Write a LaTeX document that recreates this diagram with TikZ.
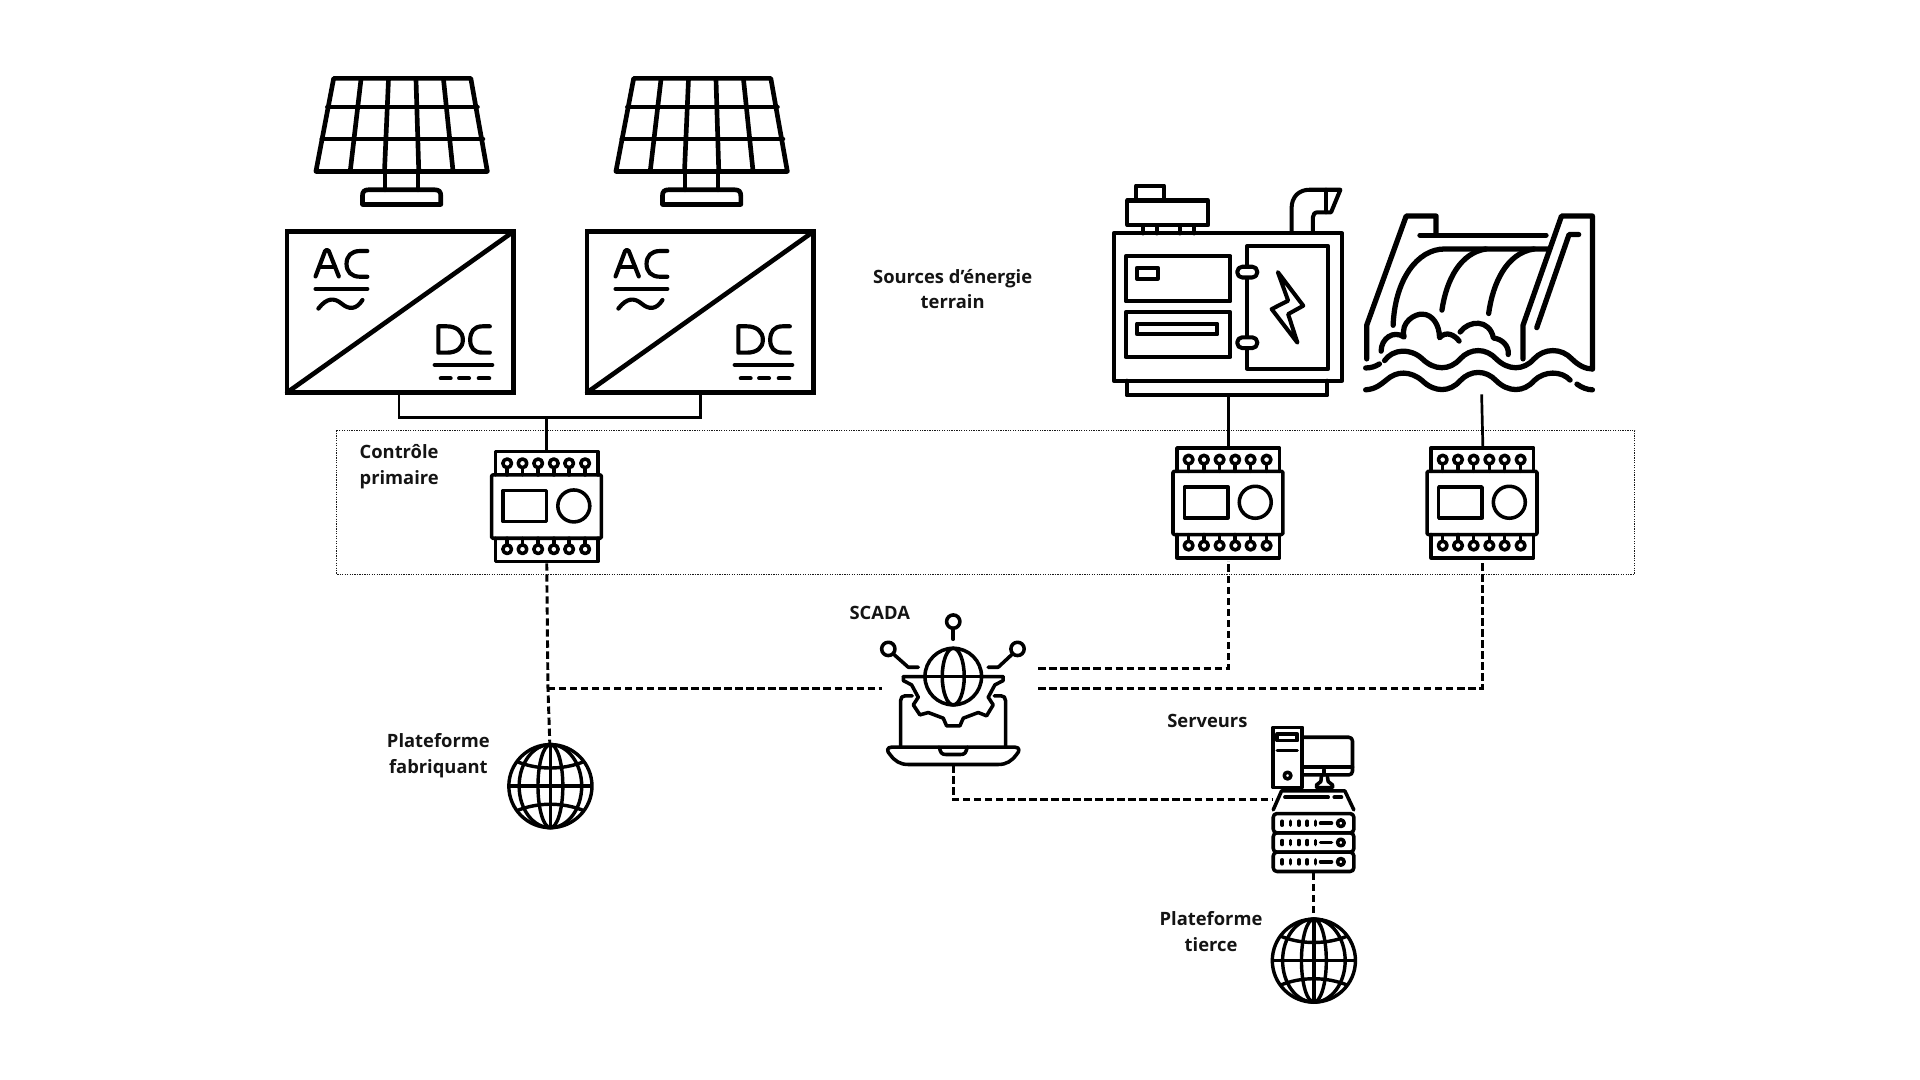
\documentclass[tikz,border=0pt]{standalone}
\usepackage{fontspec}
\setmainfont{Open Sans}
\tikzset{
  thicksun/.style={line width=3.8pt,line join=round,line cap=round},
  icon/.style={line width=2.9pt,line join=round,line cap=round},
  geniconline/.style={line width=3.3pt,line join=round,line cap=round},
  hydroline/.style={line width=4.3pt,line join=round,line cap=round},
  letter/.style={line width=3.4pt,line join=round,line cap=round},
  solidlink/.style={line width=2.2pt},
  thinlink/.style={line width=2pt},
  dashlink/.style={line width=2.4pt,dash pattern=on 6pt off 3pt},
  lab/.style={font=\bfseries\fontsize{15}{21}\selectfont,align=center,inner sep=0pt,text=black!92}
}
\newcommand{\solarunit}[1]{%
\begin{scope}[shift={(#1,0)},thicksun]
 \draw (272.5,64)--(384.5,64)--(398,140)--(258,140)--cycle;
 \draw (267.4,87.3)--(389.9,87.3) (262.8,113.5)--(394.4,113.5);
 \foreach \f in {0.2,0.4,0.6,0.8}{\draw ({272.5+112*\f},64)--({258+140*\f},140);}
 \draw (314.5,140)--(314.5,155) (341.5,140)--(341.5,155);
 \draw (296,167)--(296,160) .. controls (296,156.5) and (297.5,155) .. (301,155)--(355,155) .. controls (358.5,155) and (360,156.5) .. (360,160)--(360,167)--cycle;
\end{scope}}
\newcommand{\inverterunit}[1]{%
\begin{scope}[shift={(#1,0)}]
 \draw[thicksun,line join=miter] (234.5,189) rectangle (419.5,320.5);
 \draw[thicksun] (234.5,320.5)--(419.5,189);
 \draw[letter] (257.7,225.7)--(265.5,205) to[out=60,in=120,looseness=1.2] (268.5,205)--(276.7,225.7);
 \draw[letter] (261,218)--(273.5,218);
 \draw[letter] (300,205)--(294,205) .. controls (287,205) and (283,209) .. (283,215.5) .. controls (283,222) and (287,226) .. (294,226)--(300,226);
 \draw[letter] (257.7,236)--(300,236);
 \draw[letter] (260,252) .. controls (267,243) and (273,243) .. (279,248) .. controls (285,253) and (291,253) .. (296,245);
 \draw[letter] (358,266.5)--(365,266.5) .. controls (373,266.5) and (378,271) .. (378,277.5) .. controls (378,284) and (373,288) .. (365,288)--(358,288)--cycle;
 \draw[letter] (400,266.5)--(394,266.5) .. controls (387,266.5) and (384,271) .. (384,277.5) .. controls (384,284) and (387,288) .. (394,288)--(400,288);
 \draw[letter] (355,298)--(402,298);
 \draw[letter] (360,309)--(368,309) (375,309)--(383,309) (391,309)--(399.5,309);
\end{scope}}
\newcommand{\moduleunit}[2]{%
\begin{scope}[shift={(#1,#2)},x=.272pt,y=-.272pt,icon]
 \draw (497,165)--(497,95)--(805,95)--(805,165);
 \draw (497,355)--(497,425)--(805,425)--(805,355);
 \draw[rounded corners=1pt] (485,165) rectangle (815,355);
 \draw (520,212) rectangle (650,305);
 \draw (732,258) circle (48);
 \foreach \u in {532,578,625,672,718,766}{
   \draw (\u,130) circle (13);
   \draw (\u,145)--(\u,165);
   \draw (\u,388) circle (13);
   \draw (\u,373)--(\u,355);
 }
\end{scope}}
\newcommand{\globeunit}[2]{%
\begin{scope}[shift={(#1,#2)},x=35pt,y=35pt,line width=2.8pt]
 \draw (0,0) circle (.97);
 \draw (-1,0)--(1,0) (0,-1)--(0,1);
 \draw (0,0) circle[x radius=.73,y radius=.97];
 \draw (0,0) circle[x radius=.29,y radius=.97];
 \draw (-.8,.58) .. controls (-.3,.37) and (.3,.37) .. (.8,.58);
 \draw (-.8,-.58) .. controls (-.3,-.37) and (.3,-.37) .. (.8,-.58);
\end{scope}}
\begin{document}
\begin{tikzpicture}[x=1pt,y=-1pt]
\useasboundingbox[fill=white] (0,0) rectangle (1568,882);
% dotted frame
\draw[line width=1pt,densely dotted,black!90] (275,351.5) rectangle (1335,469);
% solar + inverters
\solarunit{0}\solarunit{245}
\inverterunit{0}\inverterunit{245}
% modules
\moduleunit{269.5}{343}\moduleunit{826}{340}\moduleunit{1033.5}{340}
% generator
\begin{scope}[shift={(889.8,138.5)},x=.2806pt,y=-.2745pt,geniconline]
 \draw (70,190) rectangle (735,628);
 \draw (108,628)--(108,672)--(692,672)--(692,628);
 \draw (110,92) rectangle (345,165);
 \draw (135,92)--(135,48)--(217,48)--(217,92);
 \draw (155,165)--(155,190) (195,165)--(195,190) (262,165)--(262,190) (305,165)--(305,190);
 \draw (588,188)--(588,115) .. controls (588,80) and (610,60) .. (640,60)--(730,60)--(703,127)--(665,127) .. controls (655,127) and (650,133) .. (650,142)--(650,188);
 \draw (688,60)--(688,127);
 \draw (105,258) rectangle (410,392);
 \draw (138,292) rectangle (198,325);
 \draw (105,425) rectangle (410,558);
 \draw (138,458) rectangle (372,490);
 \draw (458,228) rectangle (695,592);
 \draw[fill=white,rounded corners=4pt] (430,289) rectangle (488,321);
 \draw[fill=white,rounded corners=4pt] (430,499) rectangle (488,531);
 \draw (548,305)--(622,405)--(578,430)--(605,515)--(530,415)--(578,390)--cycle;
\end{scope}
% hydro
\begin{scope}[shift={(890.8,138)},x=.2806pt,y=-.2745pt,hydroline]
 \draw (803,565)--(803,465)--(918,140)--(1005,140)--(1005,195);
 \draw (958,197)--(1325,197);
 \draw (880,465) .. controls (885,330) and (950,238) .. (1030,238)--(1335,238);
 \draw (1022,420) .. controls (1035,330) and (1075,250) .. (1150,238);
 \draw (1158,430) .. controls (1170,340) and (1210,250) .. (1290,238);
 \draw (1258,565)--(1258,465)--(1370,140)--(1460,140)--(1460,595);
 \draw (1298,472)--(1392,195)--(1420,195);
 \draw (845,542) .. controls (845,505) and (880,478) .. (912,500) .. controls (900,455) and (945,430) .. (965,432) .. controls (995,432) and (1015,465) .. (1015,502) .. controls (1035,480) and (1060,495) .. (1072,512);
 \draw (1075,485) .. controls (1100,450) and (1160,445) .. (1172,503) .. controls (1195,505) and (1218,525) .. (1215,552);
 \draw (800,592) .. controls (815,592) and (828,588) .. (840,580);
 \draw (855,570) .. controls (880,535) and (930,532) .. (965,565) .. controls (1000,600) and (1045,600) .. (1075,565) .. controls (1105,532) and (1150,532) .. (1180,565) .. controls (1215,600) and (1260,600) .. (1290,565) .. controls (1320,532) and (1370,532) .. (1400,565) .. controls (1420,585) and (1440,595) .. (1460,595);
 \draw (800,657) .. controls (830,655) and (845,640) .. (860,628) .. controls (890,600) and (930,600) .. (965,630) .. controls (1000,665) and (1045,665) .. (1075,630) .. controls (1105,597) and (1150,597) .. (1180,630) .. controls (1215,665) and (1260,665) .. (1290,630) .. controls (1320,600) and (1370,600) .. (1395,628);
 \draw (1415,640) .. controls (1428,650) and (1445,657) .. (1460,657);
\end{scope}
% SCADA
\begin{scope}[shift={(686,481.8)},x=.272pt,y=-.272pt,icon]
 \draw (340,95) circle (20);
 \draw (340,115)--(340,148);
 \draw (145,177) circle (20);
 \draw (160,192)--(205,232)--(235,232);
 \draw (533,177) circle (20);
 \draw (518,192)--(475,232)--(445,232);
 \draw (190,260)--(190,272)--(215,285)--(235,322)--(220,345)--(240,375)--(265,368)--(310,385)--(320,408)--(360,408)--(370,385)--(415,368)--(440,378)--(460,345)--(445,322)--(465,285)--(490,272)--(490,260)--cycle;
 \draw[fill=white] (340,260) circle (85);
 \draw (340,260) circle[x radius=33,y radius=85];
 \draw (190,260)--(490,260);
 \draw (182,468)--(182,332) .. controls (182,323) and (187,318) .. (195,318)--(217,318);
 \draw (497,468)--(497,332) .. controls (497,323) and (492,318) .. (484,318)--(463,318);
 \draw (155,472)--(525,472) .. controls (540,472) and (540,484) .. (530,494) .. controls (515,514) and (500,524) .. (475,524)--(205,524) .. controls (180,524) and (165,514) .. (150,494) .. controls (140,484) and (140,472) .. (155,472)--cycle;
 \draw (298,472) .. controls (302,489) and (305,494) .. (318,494)--(362,494) .. controls (375,494) and (378,489) .. (382,472);
\end{scope}
% servers
\begin{scope}[shift={(1012.6,579.8)},x=.272pt,y=-.272pt,icon]
 \draw (100,52) rectangle (187,233);
 \draw (112,72) rectangle (172,92);
 \draw (112,122)--(172,122);
 \draw (143,197) circle (10);
 \draw[rounded corners=3pt] (187,82)--(338,82)--(338,195)--(187,195);
 \draw (187,172)--(338,172);
 \draw (252,180)--(252,195);
 \draw (245,195)--(243,215)--(230,225)--(230,233)--(278,233)--(278,225)--(265,215)--(262,195);
 \draw (100,300)--(125,243)--(315,243)--(342,300);
 \draw (135,262)--(265,262) (283,262)--(305,262);
 \foreach \r in {340,398,456}{
   \draw[rounded corners=3pt] (100,\r-29) rectangle (342,\r+29);
   \foreach \u in {127,152,177,202,227}{\draw (\u,\r-6)--(\u,\r+6);}
   \draw (242,\r)--(275,\r);
   \draw (303,\r) circle (10);
 }
\end{scope}
% globes
\globeunit{449.5}{642}
\globeunit{1073}{784.5}
% connector ends
\coordinate (inva) at (326,321);
\coordinate (invb) at (572,321);
\coordinate (busa) at (326,341);
\coordinate (busb) at (572,341);
\coordinate (busm) at (446.5,341);
\coordinate (moda) at (446.5,368);
\coordinate (modab) at (446.5,460);
\coordinate (corna) at (447.5,562);
\coordinate (globa) at (449,607);
\coordinate (scadal) at (720,562);
\coordinate (scadar) at (848,546);
\coordinate (scadarb) at (848,562);
\coordinate (scadab) at (778.5,625);
\coordinate (cornc) at (778.5,653);
\coordinate (servl) at (1040,653);
\coordinate (servb) at (1072.5,713);
\coordinate (globb) at (1072.5,749);
\coordinate (genb) at (1003,322);
\coordinate (modb) at (1003,365);
\coordinate (modbb) at (1003,458);
\coordinate (hydb) at (1210,322);
\coordinate (modc) at (1211,365);
\coordinate (modcb) at (1211,458);
\draw[thinlink] (inva)--(busa)--(busb)--(invb);
\draw[solidlink] (busm)--(moda);
\draw[solidlink] (genb)--(modb);
\draw[solidlink] (hydb)--(modc);
\draw[dashlink] (modab)--(corna)--(globa);
\draw[dashlink] (corna)--(scadal);
\draw[dashlink] (scadar)-|(modbb);
\draw[dashlink] (scadarb)-|(modcb);
\draw[dashlink] (scadab)--(cornc)--(servl);
\draw[dashlink] (servb)--(globb);
% labels
\node[lab] (lsrc) at (778,236) {Sources d’énergie\\terrain};
\node[lab,align=left] (lctl) at (326,381) {Contrôle\\primaire};
\node[lab] (lscada) at (718.5,500.5) {SCADA};
\node[lab] (lserv) at (986,589) {Serveurs};
\node[lab] (lfab) at (358,617) {Plateforme\\fabriquant};
\node[lab] (ltier) at (989,761) {Plateforme\\tierce};
\end{tikzpicture}
\end{document}
